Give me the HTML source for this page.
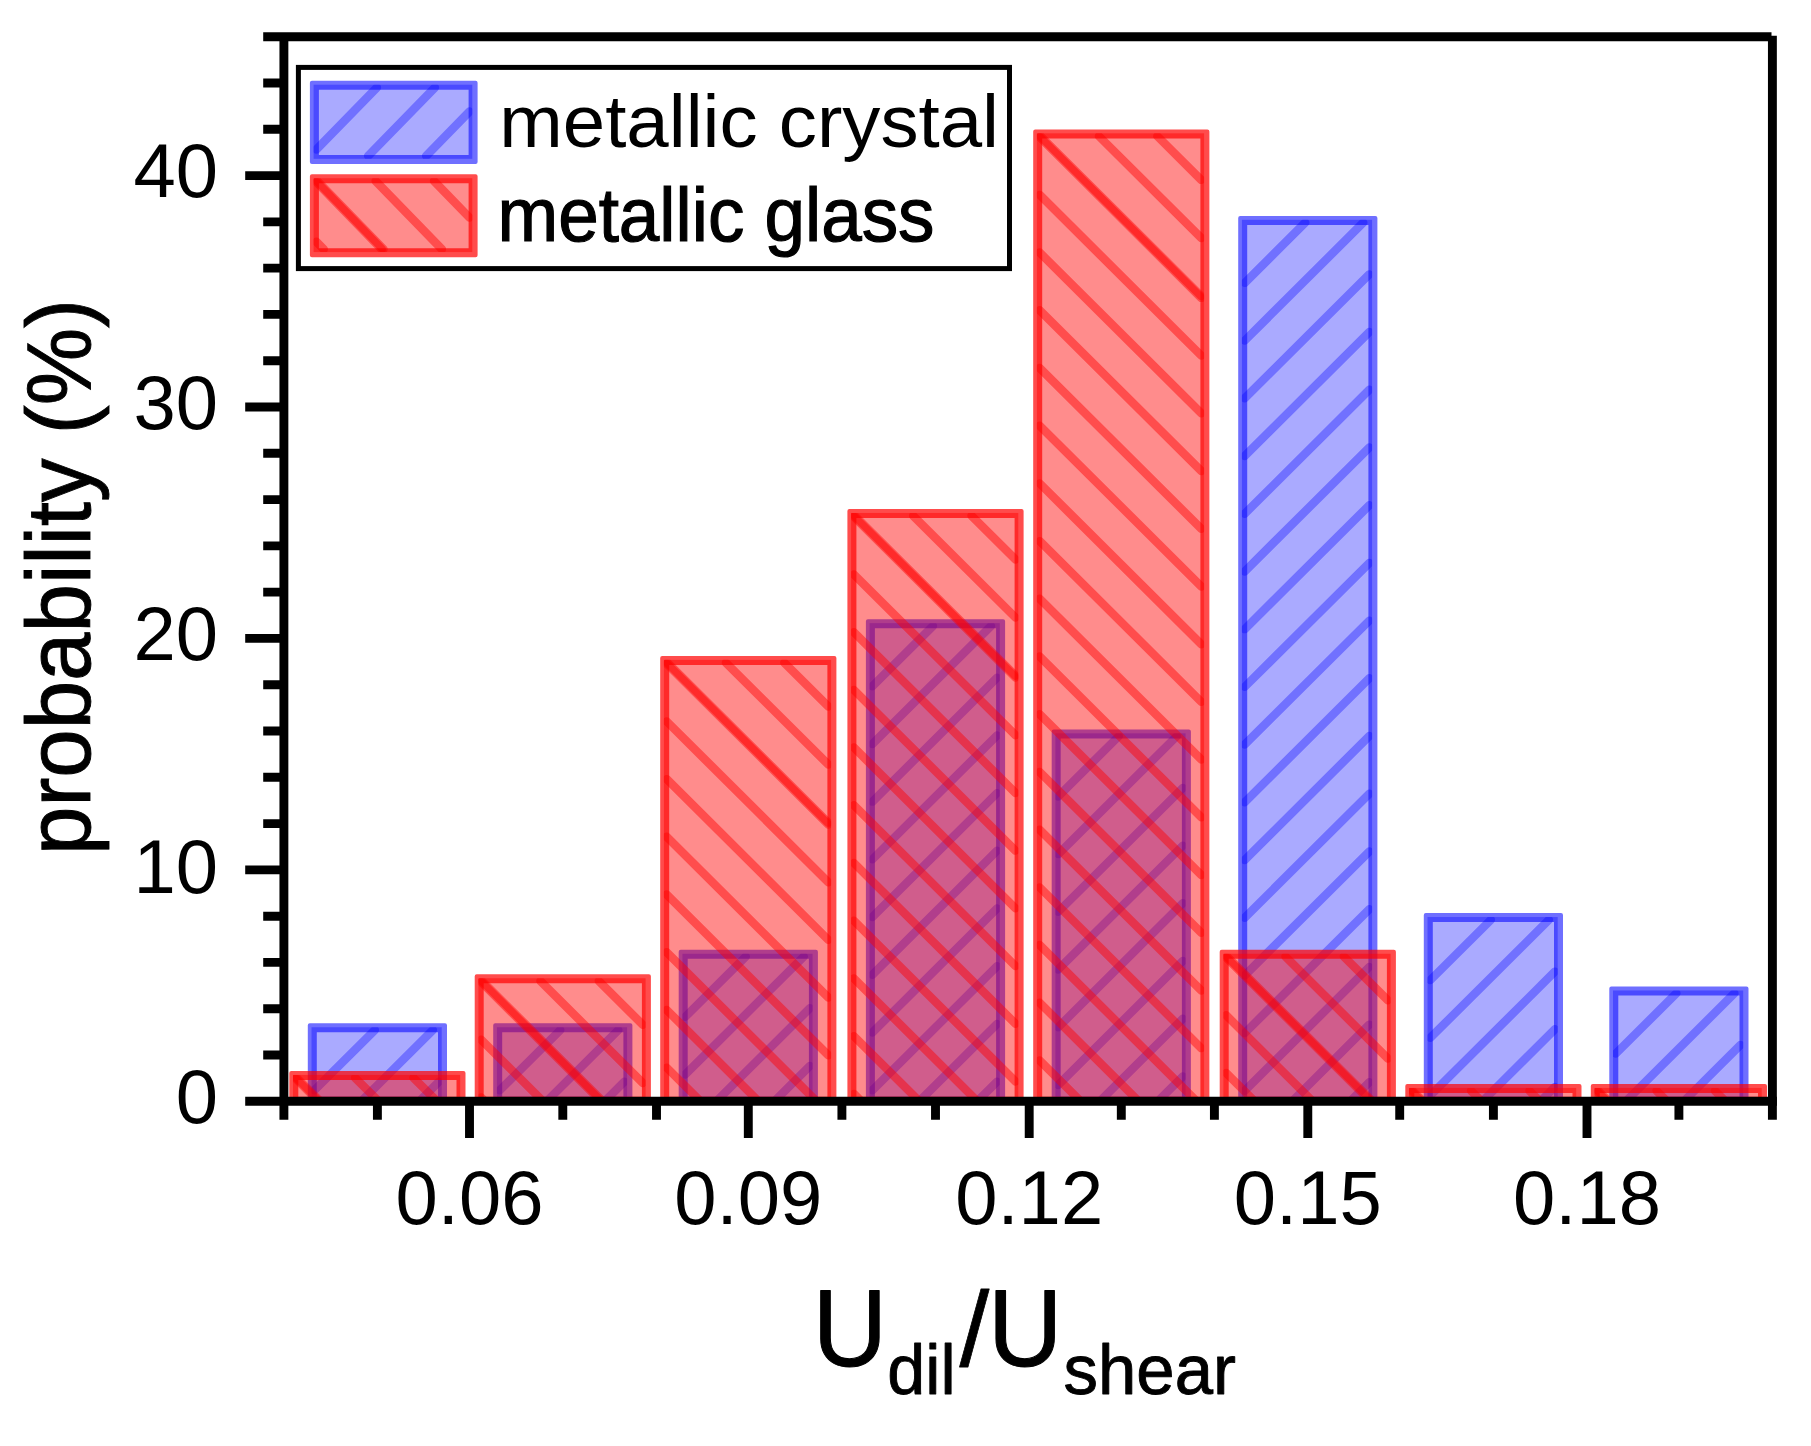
<!DOCTYPE html>
<html lang="en"><head><meta charset="utf-8"><title>Udil/Ushear histogram</title>
<style>html,body{margin:0;padding:0;background:#fff}svg{display:block}</style></head>
<body>
<svg width="1811" height="1446" viewBox="0 0 1811 1446" font-family="'Liberation Sans', Arial, sans-serif" fill="#000">
<rect width="1811" height="1446" fill="#fff"/>
<clipPath id="plot"><rect x="283.9" y="36.7" width="1488.5" height="1066.5"/></clipPath>
<g id="bars-crystal" clip-path="url(#plot)">
<clipPath id="c1"><rect x="311.50" y="1027.23" width="130.20" height="73.97"/></clipPath>
<rect x="311.50" y="1027.23" width="130.20" height="73.97" fill="rgba(0,0,255,0.335)"/>
<g clip-path="url(#c1)" stroke="rgba(0,0,255,0.335)" stroke-width="8.4" stroke-linecap="round" fill="none">
<path d="M314.30 1090.34L374.91 1030.03"/>
<path d="M361.38 1101.20L432.91 1030.03"/>
<path d="M419.38 1101.20L438.90 1081.78"/>
</g>
<path d="M309.80 1023.33H445.00A2.0 2.0 0 0 1 447.00 1025.33V1103.70A2.0 2.0 0 0 1 445.00 1105.70H309.80A2.0 2.0 0 0 1 307.80 1103.70V1025.33A2.0 2.0 0 0 1 309.80 1023.33ZM316.80 1032.33V1096.70H438.00V1032.33Z" fill="rgba(0,0,255,0.565)" fill-rule="evenodd"/>
<clipPath id="c2"><rect x="496.90" y="1027.23" width="130.20" height="73.97"/></clipPath>
<rect x="496.90" y="1027.23" width="130.20" height="73.97" fill="rgba(0,0,255,0.335)"/>
<g clip-path="url(#c2)" stroke="rgba(0,0,255,0.335)" stroke-width="8.4" stroke-linecap="round" fill="none">
<path d="M499.70 1090.34L560.31 1030.03"/>
<path d="M546.78 1101.20L618.31 1030.03"/>
<path d="M604.78 1101.20L624.30 1081.78"/>
</g>
<path d="M495.20 1023.33H630.40A2.0 2.0 0 0 1 632.40 1025.33V1103.70A2.0 2.0 0 0 1 630.40 1105.70H495.20A2.0 2.0 0 0 1 493.20 1103.70V1025.33A2.0 2.0 0 0 1 495.20 1023.33ZM502.20 1032.33V1096.70H623.40V1032.33Z" fill="rgba(0,0,255,0.565)" fill-rule="evenodd"/>
<clipPath id="c3"><rect x="682.40" y="953.76" width="130.20" height="147.44"/></clipPath>
<rect x="682.40" y="953.76" width="130.20" height="147.44" fill="rgba(0,0,255,0.335)"/>
<g clip-path="url(#c3)" stroke="rgba(0,0,255,0.335)" stroke-width="8.4" stroke-linecap="round" fill="none">
<path d="M685.20 1016.87L745.81 956.56"/>
<path d="M685.20 1074.58L803.81 956.56"/>
<path d="M716.44 1101.20L809.80 1008.31"/>
<path d="M774.44 1101.20L809.80 1066.02"/>
</g>
<path d="M680.70 949.86H815.90A2.0 2.0 0 0 1 817.90 951.86V1103.70A2.0 2.0 0 0 1 815.90 1105.70H680.70A2.0 2.0 0 0 1 678.70 1103.70V951.86A2.0 2.0 0 0 1 680.70 949.86ZM687.70 958.86V1096.70H808.90V958.86Z" fill="rgba(0,0,255,0.565)" fill-rule="evenodd"/>
<clipPath id="c4"><rect x="869.60" y="623.14" width="130.20" height="478.06"/></clipPath>
<rect x="869.60" y="623.14" width="130.20" height="478.06" fill="rgba(0,0,255,0.335)"/>
<g clip-path="url(#c4)" stroke="rgba(0,0,255,0.335)" stroke-width="8.4" stroke-linecap="round" fill="none">
<path d="M872.40 686.25L933.01 625.94"/>
<path d="M872.40 743.96L991.01 625.94"/>
<path d="M872.40 801.67L997.00 677.69"/>
<path d="M872.40 859.38L997.00 735.40"/>
<path d="M872.40 917.09L997.00 793.11"/>
<path d="M872.40 974.80L997.00 850.82"/>
<path d="M872.40 1032.51L997.00 908.53"/>
<path d="M872.40 1090.22L997.00 966.24"/>
<path d="M919.36 1101.20L997.00 1023.95"/>
<path d="M977.36 1101.20L997.00 1081.66"/>
</g>
<path d="M867.90 619.24H1003.10A2.0 2.0 0 0 1 1005.10 621.24V1103.70A2.0 2.0 0 0 1 1003.10 1105.70H867.90A2.0 2.0 0 0 1 865.90 1103.70V621.24A2.0 2.0 0 0 1 867.90 619.24ZM874.90 628.24V1096.70H996.10V628.24Z" fill="rgba(0,0,255,0.565)" fill-rule="evenodd"/>
<clipPath id="c5"><rect x="1055.39" y="733.34" width="130.20" height="367.86"/></clipPath>
<rect x="1055.39" y="733.34" width="130.20" height="367.86" fill="rgba(0,0,255,0.335)"/>
<g clip-path="url(#c5)" stroke="rgba(0,0,255,0.335)" stroke-width="8.4" stroke-linecap="round" fill="none">
<path d="M1058.19 796.45L1118.81 736.14"/>
<path d="M1058.19 854.16L1176.81 736.14"/>
<path d="M1058.19 911.87L1182.79 787.90"/>
<path d="M1058.19 969.58L1182.79 845.61"/>
<path d="M1058.19 1027.29L1182.79 903.32"/>
<path d="M1058.19 1085.00L1182.79 961.03"/>
<path d="M1099.92 1101.20L1182.79 1018.74"/>
<path d="M1157.92 1101.20L1182.79 1076.45"/>
</g>
<path d="M1053.69 729.44H1188.89A2.0 2.0 0 0 1 1190.89 731.44V1103.70A2.0 2.0 0 0 1 1188.89 1105.70H1053.69A2.0 2.0 0 0 1 1051.69 1103.70V731.44A2.0 2.0 0 0 1 1053.69 729.44ZM1060.69 738.44V1096.70H1181.89V738.44Z" fill="rgba(0,0,255,0.565)" fill-rule="evenodd"/>
<clipPath id="c6"><rect x="1241.90" y="219.80" width="130.20" height="881.40"/></clipPath>
<rect x="1241.90" y="219.80" width="130.20" height="881.40" fill="rgba(0,0,255,0.335)"/>
<g clip-path="url(#c6)" stroke="rgba(0,0,255,0.335)" stroke-width="8.4" stroke-linecap="round" fill="none">
<path d="M1244.70 282.91L1305.31 222.60"/>
<path d="M1244.70 340.62L1363.31 222.60"/>
<path d="M1244.70 398.33L1369.30 274.35"/>
<path d="M1244.70 456.04L1369.30 332.06"/>
<path d="M1244.70 513.75L1369.30 389.77"/>
<path d="M1244.70 571.46L1369.30 447.48"/>
<path d="M1244.70 629.17L1369.30 505.19"/>
<path d="M1244.70 686.88L1369.30 562.90"/>
<path d="M1244.70 744.59L1369.30 620.61"/>
<path d="M1244.70 802.30L1369.30 678.32"/>
<path d="M1244.70 860.01L1369.30 736.03"/>
<path d="M1244.70 917.72L1369.30 793.74"/>
<path d="M1244.70 975.43L1369.30 851.45"/>
<path d="M1244.70 1033.14L1369.30 909.16"/>
<path d="M1244.70 1090.85L1369.30 966.87"/>
<path d="M1292.29 1101.20L1369.30 1024.58"/>
<path d="M1350.29 1101.20L1369.30 1082.29"/>
</g>
<path d="M1240.20 215.90H1375.40A2.0 2.0 0 0 1 1377.40 217.90V1103.70A2.0 2.0 0 0 1 1375.40 1105.70H1240.20A2.0 2.0 0 0 1 1238.20 1103.70V217.90A2.0 2.0 0 0 1 1240.20 215.90ZM1247.20 224.90V1096.70H1368.40V224.90Z" fill="rgba(0,0,255,0.565)" fill-rule="evenodd"/>
<clipPath id="c7"><rect x="1427.50" y="917.02" width="130.20" height="184.18"/></clipPath>
<rect x="1427.50" y="917.02" width="130.20" height="184.18" fill="rgba(0,0,255,0.335)"/>
<g clip-path="url(#c7)" stroke="rgba(0,0,255,0.335)" stroke-width="8.4" stroke-linecap="round" fill="none">
<path d="M1430.30 980.13L1490.91 919.82"/>
<path d="M1430.30 1037.84L1548.91 919.82"/>
<path d="M1430.30 1095.55L1554.90 971.58"/>
<path d="M1482.62 1101.20L1554.90 1029.29"/>
<path d="M1540.62 1101.20L1554.90 1087.00"/>
</g>
<path d="M1425.80 913.12H1561.00A2.0 2.0 0 0 1 1563.00 915.12V1103.70A2.0 2.0 0 0 1 1561.00 1105.70H1425.80A2.0 2.0 0 0 1 1423.80 1103.70V915.12A2.0 2.0 0 0 1 1425.80 913.12ZM1432.80 922.12V1096.70H1554.00V922.12Z" fill="rgba(0,0,255,0.565)" fill-rule="evenodd"/>
<clipPath id="c8"><rect x="1613.00" y="990.49" width="130.20" height="110.71"/></clipPath>
<rect x="1613.00" y="990.49" width="130.20" height="110.71" fill="rgba(0,0,255,0.335)"/>
<g clip-path="url(#c8)" stroke="rgba(0,0,255,0.335)" stroke-width="8.4" stroke-linecap="round" fill="none">
<path d="M1615.80 1053.60L1676.41 993.29"/>
<path d="M1625.96 1101.20L1734.41 993.29"/>
<path d="M1683.96 1101.20L1740.40 1045.05"/>
</g>
<path d="M1611.30 986.59H1746.50A2.0 2.0 0 0 1 1748.50 988.59V1103.70A2.0 2.0 0 0 1 1746.50 1105.70H1611.30A2.0 2.0 0 0 1 1609.30 1103.70V988.59A2.0 2.0 0 0 1 1611.30 986.59ZM1618.30 995.59V1096.70H1739.50V995.59Z" fill="rgba(0,0,255,0.565)" fill-rule="evenodd"/>
</g>
<g id="bars-glass" clip-path="url(#plot)">
<clipPath id="c9"><rect x="293.00" y="1074.91" width="167.20" height="26.29"/></clipPath>
<rect x="293.00" y="1074.91" width="167.20" height="26.29" fill="rgba(255,0,0,0.45)"/>
<g clip-path="url(#c9)" stroke="rgba(255,0,0,0.45)" stroke-width="8.4" stroke-linecap="round" fill="none">
<path d="M296.60 1077.71L320.21 1101.20"/>
<path d="M355.00 1077.71L378.61 1101.20"/>
<path d="M413.40 1077.71L437.01 1101.20"/>
<path d="M295.80 1078.71L318.40 1101.20"/>
</g>
<path d="M291.30 1071.01H463.50A2.0 2.0 0 0 1 465.50 1073.01V1103.70A2.0 2.0 0 0 1 463.50 1105.70H291.30A2.0 2.0 0 0 1 289.30 1103.70V1073.01A2.0 2.0 0 0 1 291.30 1071.01ZM298.30 1080.01V1096.70H456.50V1080.01Z" fill="rgba(255,0,0,0.70)" fill-rule="evenodd"/>
<clipPath id="c10"><rect x="478.40" y="978.25" width="167.20" height="122.95"/></clipPath>
<rect x="478.40" y="978.25" width="167.20" height="122.95" fill="rgba(255,0,0,0.45)"/>
<g clip-path="url(#c10)" stroke="rgba(255,0,0,0.45)" stroke-width="8.4" stroke-linecap="round" fill="none">
<path d="M482.00 981.05L602.76 1101.20"/>
<path d="M540.40 981.05L642.80 1082.94"/>
<path d="M598.80 981.05L642.80 1024.83"/>
<path d="M481.20 982.05L600.95 1101.20"/>
<path d="M481.20 1039.76L542.95 1101.20"/>
<path d="M481.20 1097.47L484.95 1101.20"/>
</g>
<path d="M476.70 974.35H648.90A2.0 2.0 0 0 1 650.90 976.35V1103.70A2.0 2.0 0 0 1 648.90 1105.70H476.70A2.0 2.0 0 0 1 474.70 1103.70V976.35A2.0 2.0 0 0 1 476.70 974.35ZM483.70 983.35V1096.70H641.90V983.35Z" fill="rgba(255,0,0,0.70)" fill-rule="evenodd"/>
<clipPath id="c11"><rect x="663.90" y="659.87" width="167.20" height="441.33"/></clipPath>
<rect x="663.90" y="659.87" width="167.20" height="441.33" fill="rgba(255,0,0,0.45)"/>
<g clip-path="url(#c11)" stroke="rgba(255,0,0,0.45)" stroke-width="8.4" stroke-linecap="round" fill="none">
<path d="M667.50 662.67L828.30 822.67"/>
<path d="M725.90 662.67L828.30 764.56"/>
<path d="M784.30 662.67L828.30 706.45"/>
<path d="M666.70 663.67L828.30 824.47"/>
<path d="M666.70 721.38L828.30 882.18"/>
<path d="M666.70 779.09L828.30 939.89"/>
<path d="M666.70 836.80L828.30 997.60"/>
<path d="M666.70 894.51L828.30 1055.31"/>
<path d="M666.70 952.22L816.43 1101.20"/>
<path d="M666.70 1009.93L758.43 1101.20"/>
<path d="M666.70 1067.64L700.43 1101.20"/>
</g>
<path d="M662.20 655.97H834.40A2.0 2.0 0 0 1 836.40 657.97V1103.70A2.0 2.0 0 0 1 834.40 1105.70H662.20A2.0 2.0 0 0 1 660.20 1103.70V657.97A2.0 2.0 0 0 1 662.20 655.97ZM669.20 664.97V1096.70H827.40V664.97Z" fill="rgba(255,0,0,0.70)" fill-rule="evenodd"/>
<clipPath id="c12"><rect x="851.10" y="512.93" width="167.20" height="588.27"/></clipPath>
<rect x="851.10" y="512.93" width="167.20" height="588.27" fill="rgba(255,0,0,0.45)"/>
<g clip-path="url(#c12)" stroke="rgba(255,0,0,0.45)" stroke-width="8.4" stroke-linecap="round" fill="none">
<path d="M854.70 515.73L1015.50 675.73"/>
<path d="M913.10 515.73L1015.50 617.62"/>
<path d="M971.50 515.73L1015.50 559.51"/>
<path d="M853.90 516.73L1015.50 677.52"/>
<path d="M853.90 574.44L1015.50 735.23"/>
<path d="M853.90 632.15L1015.50 792.94"/>
<path d="M853.90 689.86L1015.50 850.65"/>
<path d="M853.90 747.57L1015.50 908.36"/>
<path d="M853.90 805.28L1015.50 966.07"/>
<path d="M853.90 862.99L1015.50 1023.78"/>
<path d="M853.90 920.70L1015.50 1081.49"/>
<path d="M853.90 978.41L977.31 1101.20"/>
<path d="M853.90 1036.12L919.31 1101.20"/>
<path d="M853.90 1093.83L861.31 1101.20"/>
</g>
<path d="M849.40 509.03H1021.60A2.0 2.0 0 0 1 1023.60 511.03V1103.70A2.0 2.0 0 0 1 1021.60 1105.70H849.40A2.0 2.0 0 0 1 847.40 1103.70V511.03A2.0 2.0 0 0 1 849.40 509.03ZM856.40 518.03V1096.70H1014.60V518.03Z" fill="rgba(255,0,0,0.70)" fill-rule="evenodd"/>
<clipPath id="c13"><rect x="1036.89" y="133.33" width="167.20" height="967.87"/></clipPath>
<rect x="1036.89" y="133.33" width="167.20" height="967.87" fill="rgba(255,0,0,0.45)"/>
<g clip-path="url(#c13)" stroke="rgba(255,0,0,0.45)" stroke-width="8.4" stroke-linecap="round" fill="none">
<path d="M1040.49 136.13L1201.29 296.13"/>
<path d="M1098.89 136.13L1201.29 238.02"/>
<path d="M1157.29 136.13L1201.29 179.91"/>
<path d="M1039.69 137.13L1201.29 297.92"/>
<path d="M1039.69 194.84L1201.29 355.63"/>
<path d="M1039.69 252.55L1201.29 413.34"/>
<path d="M1039.69 310.26L1201.29 471.05"/>
<path d="M1039.69 367.97L1201.29 528.76"/>
<path d="M1039.69 425.68L1201.29 586.47"/>
<path d="M1039.69 483.39L1201.29 644.18"/>
<path d="M1039.69 541.10L1201.29 701.89"/>
<path d="M1039.69 598.81L1201.29 759.60"/>
<path d="M1039.69 656.52L1201.29 817.31"/>
<path d="M1039.69 714.23L1201.29 875.02"/>
<path d="M1039.69 771.94L1201.29 932.73"/>
<path d="M1039.69 829.65L1201.29 990.44"/>
<path d="M1039.69 887.36L1201.29 1048.15"/>
<path d="M1039.69 945.07L1196.61 1101.20"/>
<path d="M1039.69 1002.78L1138.61 1101.20"/>
<path d="M1039.69 1060.49L1080.61 1101.20"/>
</g>
<path d="M1035.19 129.43H1207.39A2.0 2.0 0 0 1 1209.39 131.43V1103.70A2.0 2.0 0 0 1 1207.39 1105.70H1035.19A2.0 2.0 0 0 1 1033.19 1103.70V131.43A2.0 2.0 0 0 1 1035.19 129.43ZM1042.19 138.43V1096.70H1200.39V138.43Z" fill="rgba(255,0,0,0.70)" fill-rule="evenodd"/>
<clipPath id="c14"><rect x="1223.40" y="953.76" width="167.20" height="147.44"/></clipPath>
<rect x="1223.40" y="953.76" width="167.20" height="147.44" fill="rgba(255,0,0,0.45)"/>
<g clip-path="url(#c14)" stroke="rgba(255,0,0,0.45)" stroke-width="8.4" stroke-linecap="round" fill="none">
<path d="M1227.00 956.56L1372.37 1101.20"/>
<path d="M1285.40 956.56L1387.80 1058.45"/>
<path d="M1343.80 956.56L1387.80 1000.34"/>
<path d="M1226.20 957.56L1370.56 1101.20"/>
<path d="M1226.20 1015.27L1312.56 1101.20"/>
<path d="M1226.20 1072.98L1254.56 1101.20"/>
</g>
<path d="M1221.70 949.86H1393.90A2.0 2.0 0 0 1 1395.90 951.86V1103.70A2.0 2.0 0 0 1 1393.90 1105.70H1221.70A2.0 2.0 0 0 1 1219.70 1103.70V951.86A2.0 2.0 0 0 1 1221.70 949.86ZM1228.70 958.86V1096.70H1386.90V958.86Z" fill="rgba(255,0,0,0.70)" fill-rule="evenodd"/>
<clipPath id="c15"><rect x="1409.00" y="1087.95" width="167.20" height="13.25"/></clipPath>
<rect x="1409.00" y="1087.95" width="167.20" height="13.25" fill="rgba(255,0,0,0.45)"/>
<g clip-path="url(#c15)" stroke="rgba(255,0,0,0.45)" stroke-width="8.4" stroke-linecap="round" fill="none">
<path d="M1412.60 1090.75L1423.10 1101.20"/>
<path d="M1471.00 1090.75L1481.50 1101.20"/>
<path d="M1529.40 1090.75L1539.90 1101.20"/>
<path d="M1411.80 1091.75L1421.29 1101.20"/>
</g>
<path d="M1407.30 1084.05H1579.50A2.0 2.0 0 0 1 1581.50 1086.05V1103.70A2.0 2.0 0 0 1 1579.50 1105.70H1407.30A2.0 2.0 0 0 1 1405.30 1103.70V1086.05A2.0 2.0 0 0 1 1407.30 1084.05ZM1414.30 1093.05V1096.70H1572.50V1093.05Z" fill="rgba(255,0,0,0.70)" fill-rule="evenodd"/>
<clipPath id="c16"><rect x="1594.50" y="1087.95" width="167.20" height="13.25"/></clipPath>
<rect x="1594.50" y="1087.95" width="167.20" height="13.25" fill="rgba(255,0,0,0.45)"/>
<g clip-path="url(#c16)" stroke="rgba(255,0,0,0.45)" stroke-width="8.4" stroke-linecap="round" fill="none">
<path d="M1598.10 1090.75L1608.60 1101.20"/>
<path d="M1656.50 1090.75L1667.00 1101.20"/>
<path d="M1714.90 1090.75L1725.40 1101.20"/>
<path d="M1597.30 1091.75L1606.79 1101.20"/>
</g>
<path d="M1592.80 1084.05H1765.00A2.0 2.0 0 0 1 1767.00 1086.05V1103.70A2.0 2.0 0 0 1 1765.00 1105.70H1592.80A2.0 2.0 0 0 1 1590.80 1103.70V1086.05A2.0 2.0 0 0 1 1592.80 1084.05ZM1599.80 1093.05V1096.70H1758.00V1093.05Z" fill="rgba(255,0,0,0.70)" fill-rule="evenodd"/>
</g>
<g id="axes" stroke="#000" stroke-width="8.9" fill="none">
<path d="M263.2 36.7H1771.5"/>
<path d="M283.9 36.7V1119.7"/>
<path d="M1772.4 35.7V1119.7"/>
<path d="M245.2 1101.2H1776.9"/>
<path d="M263.2 1055.0H283.9M263.2 1008.7H283.9M263.2 962.4H283.9M263.2 916.2H283.9M245.2 869.9H283.9M263.2 823.6H283.9M263.2 777.3H283.9M263.2 731.0H283.9M263.2 684.7H283.9M245.2 638.4H283.9M263.2 592.1H283.9M263.2 545.9H283.9M263.2 499.6H283.9M263.2 453.3H283.9M245.2 407.0H283.9M263.2 360.7H283.9M263.2 314.4H283.9M263.2 268.1H283.9M263.2 221.9H283.9M245.2 175.6H283.9M263.2 129.3H283.9M263.2 83.0H283.9"/>
<path d="M377.4 1101.2V1119.7M469.5 1101.2V1137.9M562.8 1101.2V1119.7M656.5 1101.2V1119.7M748.3 1101.2V1137.9M841.9 1101.2V1119.7M935.5 1101.2V1119.7M1029.2 1101.2V1137.9M1121.3 1101.2V1119.7M1214.4 1101.2V1119.7M1307.8 1101.2V1137.9M1399.7 1101.2V1119.7M1493.4 1101.2V1119.7M1587.0 1101.2V1137.9M1678.9 1101.2V1119.7"/>
</g>
<g id="ylabels" font-size="76" text-anchor="end">
<text x="218.1" y="1122.8">0</text>
<text x="218.1" y="892.9">10</text>
<text x="218.1" y="659.9">20</text>
<text x="218.1" y="428.5">30</text>
<text x="218.1" y="197.1">40</text>
</g>
<g id="xlabels" font-size="76" text-anchor="middle">
<text x="469.5" y="1224">0.06</text>
<text x="748.3" y="1224">0.09</text>
<text x="1029.2" y="1224">0.12</text>
<text x="1307.8" y="1224">0.15</text>
<text x="1587.0" y="1224">0.18</text>
</g>
<text id="ytitle" transform="translate(89.8 855) rotate(-90)" font-size="91.5" textLength="556" lengthAdjust="spacingAndGlyphs" stroke="#000" stroke-width="0.9">probability (%)</text>
<g id="xtitle">
<text transform="translate(812.8 1366.3) scale(0.94 1)" font-size="109.5" stroke="#000" stroke-width="1.1" stroke-linejoin="round">U</text>
<text transform="translate(887.3 1394.3) scale(0.975 1)" font-size="70" stroke="#000" stroke-width="0.9" stroke-linejoin="round">dil</text>
<text transform="translate(959.6 1366.0) scale(1.02 1)" font-size="105" stroke="#000" stroke-width="0.8" stroke-linejoin="round">/</text>
<text transform="translate(988.0 1366.3) scale(0.94 1)" font-size="109.5" stroke="#000" stroke-width="1.1" stroke-linejoin="round">U</text>
<text transform="translate(1063.6 1394.3) scale(0.984 1)" font-size="70" stroke="#000" stroke-width="0.9" stroke-linejoin="round">shear</text>
</g>
<g id="legend">
<rect x="298.4" y="67.4" width="711.1" height="201.2" fill="#fff" stroke="#000" stroke-width="5"/>
<clipPath id="c17"><rect x="313.60" y="84.70" width="158.70" height="74.10"/></clipPath>
<rect x="313.60" y="84.70" width="158.70" height="74.10" fill="rgba(0,0,255,0.335)"/>
<g clip-path="url(#c17)" stroke="rgba(0,0,255,0.335)" stroke-width="8.4" stroke-linecap="round" fill="none">
<path d="M316.40 149.55L376.94 87.50"/>
<path d="M368.11 156.00L434.94 87.50"/>
<path d="M426.11 156.00L469.50 111.52"/>
</g>
<path d="M311.90 80.80H475.60A2.0 2.0 0 0 1 477.60 82.80V161.90A2.0 2.0 0 0 1 475.60 163.90H311.90A2.0 2.0 0 0 1 309.90 161.90V82.80A2.0 2.0 0 0 1 311.90 80.80ZM318.90 89.80V154.90H468.60V89.80Z" fill="rgba(0,0,255,0.565)" fill-rule="evenodd"/>
<clipPath id="c18"><rect x="313.60" y="178.20" width="158.70" height="73.90"/></clipPath>
<rect x="313.60" y="178.20" width="158.70" height="73.90" fill="rgba(255,0,0,0.45)"/>
<g clip-path="url(#c18)" stroke="rgba(255,0,0,0.45)" stroke-width="8.4" stroke-linecap="round" fill="none">
<path d="M317.20 181.00L383.51 249.30"/>
<path d="M375.60 181.00L441.91 249.30"/>
<path d="M434.00 181.00L469.50 217.57"/>
<path d="M316.40 182.00L381.74 249.30"/>
<path d="M316.40 241.74L323.74 249.30"/>
</g>
<path d="M311.90 174.30H475.60A2.0 2.0 0 0 1 477.60 176.30V255.20A2.0 2.0 0 0 1 475.60 257.20H311.90A2.0 2.0 0 0 1 309.90 255.20V176.30A2.0 2.0 0 0 1 311.90 174.30ZM318.90 183.30V248.20H468.60V183.30Z" fill="rgba(255,0,0,0.70)" fill-rule="evenodd"/>
<text x="499.3" y="147.4" font-size="74" textLength="499.7" lengthAdjust="spacingAndGlyphs">metallic crystal</text>
<text x="497.5" y="241" font-size="76" textLength="437" lengthAdjust="spacingAndGlyphs" stroke="#000" stroke-width="1.2">metallic glass</text>
</g>
</svg>
</body></html>
